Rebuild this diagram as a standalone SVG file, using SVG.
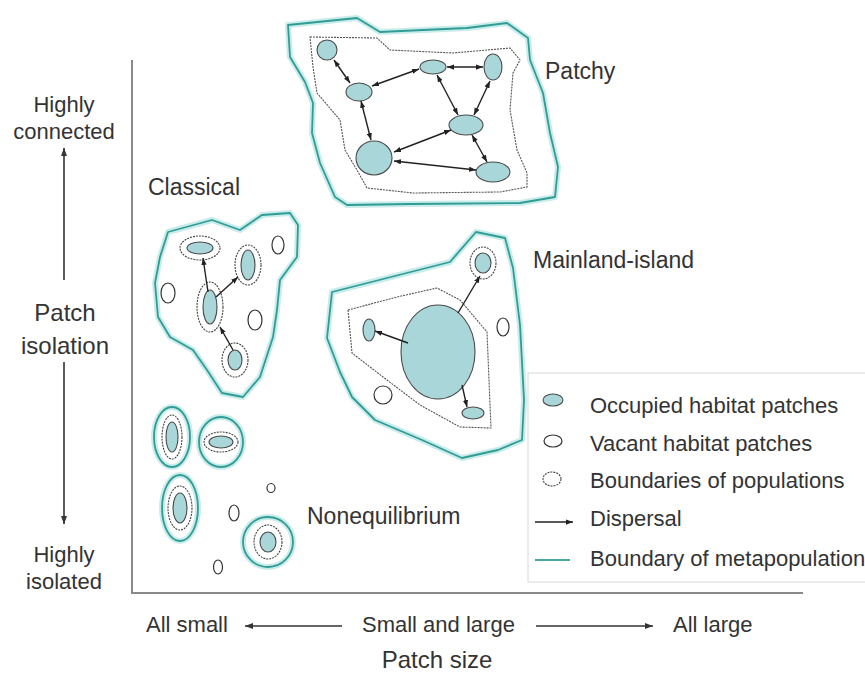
<svg xmlns="http://www.w3.org/2000/svg" width="865" height="678" viewBox="0 0 865 678">
<style>
text{font-family:"Liberation Sans",Arial,sans-serif;fill:#333}
.lbl{font-size:23px}
.ax{font-size:22px}
.lg{font-size:22px}
.glow{fill:none;stroke:#c9ecea;stroke-width:6;stroke-linejoin:round}
.meta{fill:none;stroke:#2f9c96;stroke-width:1.8;stroke-linejoin:round}
.occ{fill:#a9d6d8;stroke:#4a4a4a;stroke-width:1.1}
.vac{fill:#fff;stroke:#333;stroke-width:1.2}
.pop{fill:none;stroke:#444;stroke-width:1.1;stroke-dasharray:2 1}
.inner{fill:none;stroke:#555;stroke-width:1.1;stroke-dasharray:2 1}
.disp{fill:none;stroke:#222;stroke-width:1.4}
.axis{fill:none;stroke:#8a8a8a;stroke-width:2}
.axarr{fill:none;stroke:#333;stroke-width:1.6}
</style>
<defs>
<marker id="ah" viewBox="0 0 8 6" refX="8" refY="3" markerWidth="7" markerHeight="5.5" markerUnits="userSpaceOnUse" orient="auto-start-reverse">
<path d="M0,0 L8,3 L0,6 z" fill="#222"/>
</marker>
<marker id="ahb" viewBox="0 0 8 6" refX="8" refY="3" markerWidth="8" markerHeight="6" markerUnits="userSpaceOnUse" orient="auto-start-reverse">
<path d="M0,0 L8,3 L0,6 z" fill="#333"/>
</marker>
</defs>
<rect width="865" height="678" fill="#fff"/>

<g id="axes">
<polyline class="axis" points="132,60 132,593 803,593"/>
</g>

<g id="axis-y-labels">
<text class="ax" x="64" y="112" text-anchor="middle">Highly</text>
<text class="ax" x="64" y="139" text-anchor="middle">connected</text>
<text class="ax" x="65" y="321" text-anchor="middle" style="font-size:24px">Patch</text>
<text class="ax" x="65" y="354" text-anchor="middle" style="font-size:24px">isolation</text>
<text class="ax" x="64" y="562" text-anchor="middle">Highly</text>
<text class="ax" x="64" y="589" text-anchor="middle">isolated</text>
</g>

<g id="axis-x-labels">
<text class="ax" x="146" y="632">All small</text>
<text class="ax" x="362" y="632">Small and large</text>
<text class="ax" x="673" y="632">All large</text>
<text class="ax" x="437" y="668" text-anchor="middle" style="font-size:24px">Patch size</text>
</g>

<g id="patchy">
<path class="glow" d="M288,25 L357,18 L380,32 L423,30 L467,28 L507,23 L528,38 L530,60 L543,93 L550,133 L558,167 L555,197 L520,203 L410,204 L347,205 L335,197 L320,163 L312,133 L313,103 L305,82 L290,57 Z"/>
<path class="meta" d="M288,25 L357,18 L380,32 L423,30 L467,28 L507,23 L528,38 L530,60 L543,93 L550,133 L558,167 L555,197 L520,203 L410,204 L347,205 L335,197 L320,163 L312,133 L313,103 L305,82 L290,57 Z"/>
<path class="inner" d="M310,37 L377,38 L390,50 L453,53 L510,48 L520,60 L513,73 L510,110 L517,150 L527,173 L527,187 L500,192 L413,193 L367,188 L357,170 L345,150 L340,120 L317,93 L313,67 Z"/>
<ellipse class="occ" cx="327" cy="50" rx="10" ry="10"/>
<ellipse class="occ" cx="359" cy="92" rx="13" ry="9"/>
<ellipse class="occ" cx="433" cy="67" rx="13" ry="7"/>
<ellipse class="occ" cx="493" cy="67" rx="9" ry="13"/>
<ellipse class="occ" cx="466" cy="125" rx="17" ry="10"/>
<ellipse class="occ" cx="374" cy="158" rx="18" ry="17"/>
<ellipse class="occ" cx="493" cy="172" rx="17" ry="10"/>
<text class="lbl" x="545" y="79">Patchy</text>
</g>

<g id="classical">
<path class="glow" d="M168,232 L212,220 L240,230 L262,215 L290,213 L298,225 L297,257 L280,280 L277,310 L273,337 L260,377 L243,397 L222,393 L207,370 L193,350 L170,337 L158,317 L155,283 L160,257 Z"/>
<path class="meta" d="M168,232 L212,220 L240,230 L262,215 L290,213 L298,225 L297,257 L280,280 L277,310 L273,337 L260,377 L243,397 L222,393 L207,370 L193,350 L170,337 L158,317 L155,283 L160,257 Z"/>
<ellipse class="pop" cx="200" cy="248" rx="20" ry="12"/>
<ellipse class="occ" cx="200" cy="248" rx="13" ry="6"/>
<ellipse class="pop" cx="248" cy="265" rx="13" ry="20"/>
<ellipse class="occ" cx="248" cy="265" rx="7" ry="15"/>
<ellipse class="pop" cx="210" cy="307" rx="13" ry="25"/>
<ellipse class="occ" cx="210" cy="307" rx="7" ry="17"/>
<ellipse class="pop" cx="235" cy="360" rx="13" ry="17"/>
<ellipse class="occ" cx="235" cy="360" rx="7" ry="10"/>
<ellipse class="vac" cx="168" cy="293" rx="7" ry="10"/>
<ellipse class="vac" cx="278" cy="245" rx="6" ry="9"/>
<ellipse class="vac" cx="255" cy="320" rx="7" ry="10"/>
<text class="lbl" x="148" y="195">Classical</text>
</g>

<g id="mainland-island">
<path class="glow" d="M332,292 L450,262 L476,232 L505,238 L513,268 L520,325 L524,400 L522,440 L498,450 L462,458 L422,440 L375,420 L352,397 L340,372 L327,338 Z"/>
<path class="meta" d="M332,292 L450,262 L476,232 L505,238 L513,268 L520,325 L524,400 L522,440 L498,450 L462,458 L422,440 L375,420 L352,397 L340,372 L327,338 Z"/>
<path class="inner" d="M348,310 L397,297 L437,288 L460,300 L487,332 L489,380 L491,428 L460,427 L420,405 L383,377 L352,353 Z"/>
<ellipse class="occ" cx="438" cy="352" rx="37" ry="47"/>
<ellipse class="occ" cx="369" cy="330" rx="6" ry="11"/>
<ellipse class="pop" cx="483" cy="263" rx="13" ry="16"/>
<ellipse class="occ" cx="483" cy="263" rx="8" ry="10"/>
<ellipse class="vac" cx="503" cy="327" rx="6" ry="9"/>
<ellipse class="vac" cx="383" cy="395" rx="9" ry="9"/>
<ellipse class="occ" cx="473" cy="413" rx="11" ry="6"/>
<text class="lbl" x="533" y="268">Mainland-island</text>
</g>

<g id="nonequilibrium">
<ellipse class="glow" cx="172" cy="437" rx="18" ry="30"/>
<ellipse class="meta" cx="172" cy="437" rx="18" ry="30"/>
<ellipse class="pop" cx="172" cy="437" rx="10" ry="22"/>
<ellipse class="occ" cx="172" cy="437" rx="6" ry="15"/>
<ellipse class="glow" cx="221" cy="442" rx="22" ry="25"/>
<ellipse class="meta" cx="221" cy="442" rx="22" ry="25"/>
<ellipse class="pop" cx="221" cy="442" rx="17" ry="10"/>
<ellipse class="occ" cx="221" cy="442" rx="12" ry="6"/>
<ellipse class="glow" cx="180" cy="508" rx="18" ry="33"/>
<ellipse class="meta" cx="180" cy="508" rx="18" ry="33"/>
<ellipse class="pop" cx="180" cy="508" rx="12" ry="22"/>
<ellipse class="occ" cx="180" cy="508" rx="7" ry="15"/>
<ellipse class="glow" cx="268" cy="542" rx="25" ry="25"/>
<ellipse class="meta" cx="268" cy="542" rx="25" ry="25"/>
<ellipse class="pop" cx="268" cy="542" rx="14" ry="17"/>
<ellipse class="occ" cx="268" cy="542" rx="8" ry="10"/>
<ellipse class="vac" cx="271" cy="488" rx="4" ry="4.5"/>
<ellipse class="vac" cx="234" cy="513" rx="5" ry="8"/>
<ellipse class="vac" cx="218" cy="567" rx="4.5" ry="7"/>
<text class="lbl" x="307" y="524">Nonequilibrium</text>
</g>

<g id="connectors">
<g class="disp">
<line x1="334" y1="60" x2="350" y2="83" marker-start="url(#ah)" marker-end="url(#ah)"/>
<line x1="372" y1="86" x2="419" y2="69" marker-start="url(#ah)" marker-end="url(#ah)"/>
<line x1="447" y1="67" x2="483" y2="67" marker-start="url(#ah)" marker-end="url(#ah)"/>
<line x1="437" y1="75" x2="458" y2="115" marker-start="url(#ah)" marker-end="url(#ah)"/>
<line x1="490" y1="81" x2="474" y2="115" marker-start="url(#ah)" marker-end="url(#ah)"/>
<line x1="361" y1="101" x2="371" y2="140" marker-start="url(#ah)" marker-end="url(#ah)"/>
<line x1="451" y1="130" x2="394" y2="152" marker-start="url(#ah)" marker-end="url(#ah)"/>
<line x1="394" y1="161" x2="476" y2="170" marker-start="url(#ah)" marker-end="url(#ah)"/>
<line x1="472" y1="135" x2="487" y2="162" marker-start="url(#ah)" marker-end="url(#ah)"/>
<line x1="208" y1="292" x2="203" y2="258" marker-end="url(#ah)"/>
<line x1="216" y1="297" x2="238" y2="277" marker-end="url(#ah)"/>
<line x1="233" y1="350" x2="220" y2="327" marker-end="url(#ah)"/>
<line x1="408" y1="343" x2="375" y2="331" marker-end="url(#ah)"/>
<line x1="458" y1="313" x2="480" y2="276" marker-end="url(#ah)"/>
<line x1="462" y1="385" x2="467" y2="407" marker-end="url(#ah)"/>
</g>
<g class="axarr">
<line x1="64" y1="280" x2="64" y2="148" marker-end="url(#ahb)"/>
<line x1="64" y1="362" x2="64" y2="524" marker-end="url(#ahb)"/>
<line x1="342" y1="626" x2="245" y2="626" marker-end="url(#ahb)"/>
<line x1="536" y1="626" x2="653" y2="626" marker-end="url(#ahb)"/>
</g>
</g>

<g id="legend">
<rect x="528" y="373" width="345" height="209" fill="#fff" stroke="#e0e0e0" stroke-width="1.2"/>
<ellipse class="occ" cx="553" cy="400" rx="10" ry="6"/>
<text class="lg" x="590" y="413">Occupied habitat patches</text>
<ellipse class="vac" cx="553" cy="441" rx="9" ry="6"/>
<text class="lg" x="590" y="451">Vacant habitat patches</text>
<ellipse class="pop" cx="552" cy="479" rx="9" ry="7"/>
<text class="lg" x="590" y="488">Boundaries of populations</text>
<line class="disp" x1="535" y1="522" x2="573" y2="522" marker-end="url(#ah)"/>
<text class="lg" x="590" y="526">Dispersal</text>
<line x1="535" y1="560" x2="570" y2="560" stroke="#4aa8a3" stroke-width="1.8"/>
<text class="lg" x="590" y="566">Boundary of metapopulation</text>
</g>
</svg>
